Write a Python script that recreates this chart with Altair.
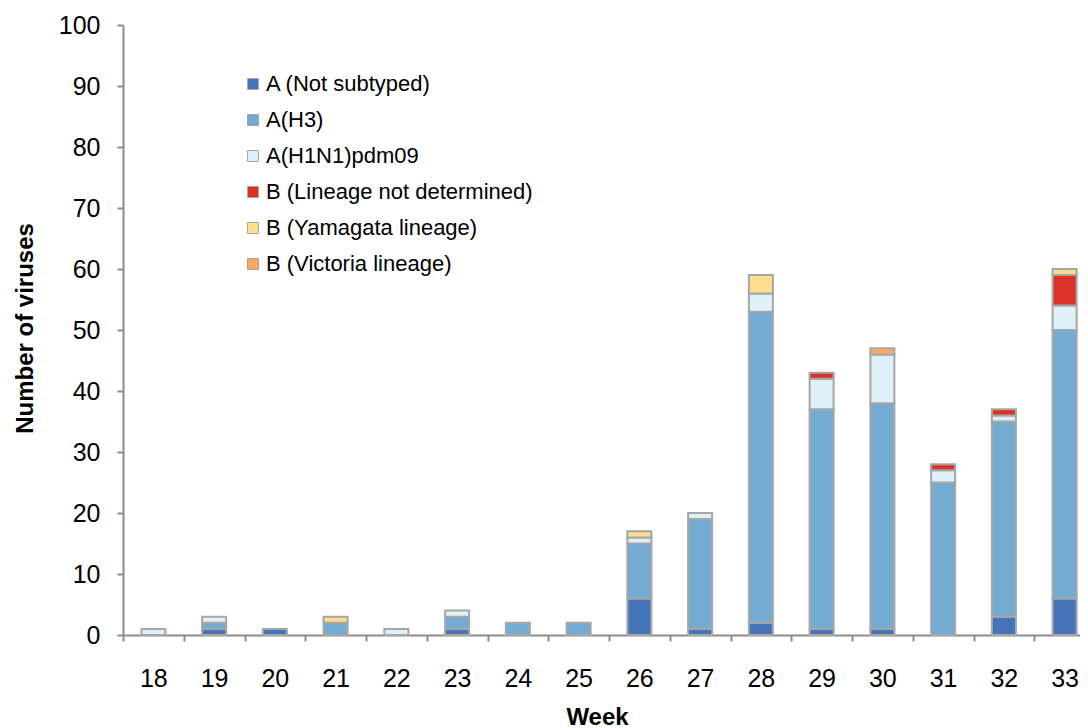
import altair as alt
import pandas as pd

weeks = [18, 19, 20, 21, 22, 23, 24, 25, 26, 27, 28, 29, 30, 31, 32, 33]
series_names = [
    "A (Not subtyped)",
    "A(H3)",
    "A(H1N1)pdm09",
    "B (Lineage not determined)",
    "B (Yamagata lineage)",
    "B (Victoria lineage)",
]
not_subtyped = [0, 1, 1, 0, 0, 1, 0, 0, 6, 1, 2, 1, 1, 0, 3, 6]
h3 = [0, 1, 0, 2, 0, 2, 2, 2, 9, 18, 51, 36, 37, 25, 32, 44]
h1n1 = [1, 1, 0, 0, 1, 1, 0, 0, 1, 1, 3, 5, 8, 2, 1, 4]
b_nd = [0, 0, 0, 0, 0, 0, 0, 0, 0, 0, 0, 1, 0, 1, 1, 5]
b_yam = [0, 0, 0, 1, 0, 0, 0, 0, 1, 0, 3, 0, 0, 0, 0, 1]
b_vic = [0, 0, 0, 0, 0, 0, 0, 0, 0, 0, 0, 0, 1, 0, 0, 0]
colors = ["#4574B8", "#74ABD3", "#DEF1F8", "#D93327", "#FFDD8C", "#FBA95E"]
y_ticks = [0, 10, 20, 30, 40, 50, 60, 70, 80, 90, 100]

series_values = [not_subtyped, h3, h1n1, b_nd, b_yam, b_vic]
rows = []
for si, (name, vals) in enumerate(zip(series_names, series_values)):
    for w, v in zip(weeks, vals):
        if v > 0:
            rows.append({"Week": str(w), "Type": name, "Count": v, "ord": si})
df = pd.DataFrame(rows)

FONT = "Liberation Sans"
AX = "#8C8C8C"

chart = alt.Chart(df).mark_bar(size=24, stroke="#A6A6A6", strokeWidth=2).encode(
    x=alt.X(
        "Week:N",
        sort=[str(w) for w in weeks],
        scale=alt.Scale(domain=[str(w) for w in weeks], range=[0, 972], paddingInner=0, paddingOuter=0),
        axis=alt.Axis(
            title="Week",
            labelAngle=0,
            tickBand="extent",
            tickSize=6,
            tickColor=AX,
            tickWidth=2,
            domainColor=AX,
            domainWidth=2,
            labelFont=FONT,
            labelFontSize=25,
            labelColor="#000000",
            labelBaseline="alphabetic",
            labelPadding=45,
            titleFont=FONT,
            titleFontSize=24,
            titleFontWeight="bold",
            titleColor="#000000",
            titleX=474,
            titleY=89,
            titleBaseline="alphabetic",
            titleAlign="center",
            grid=False,
        ),
    ),
    y=alt.Y(
        "Count:Q",
        stack="zero",
        scale=alt.Scale(domain=[0, 100], nice=False),
        axis=alt.Axis(
            title="Number of viruses",
            values=y_ticks,
            tickSize=6,
            tickColor=AX,
            tickWidth=2,
            domainColor=AX,
            domainWidth=2,
            labelFont=FONT,
            labelFontSize=25,
            labelColor="#000000",
            labelPadding=17,
            titleFont=FONT,
            titleFontSize=24,
            titleFontWeight="bold",
            titleColor="#000000",
            titleX=-91,
            titleY=303,
            titleAngle=270,
            titleBaseline="alphabetic",
            titleAlign="center",
            grid=False,
        ),
    ),
    color=alt.Color(
        "Type:N",
        scale=alt.Scale(domain=series_names, range=colors),
        legend=alt.Legend(
            title=None,
            orient="none",
            legendX=119,
            legendY=48,
            symbolType="square",
            symbolSize=121,
            symbolStrokeColor="#A6A6A6",
            symbolStrokeWidth=1,
            labelFont=FONT,
            labelFontSize=22,
            labelColor="#000000",
            labelOffset=2,
            labelLimit=500,
            rowPadding=14,
            padding=0,
        ),
    ),
    order=alt.Order("ord:Q", sort="ascending"),
).properties(
    width=950,
    height=610,
    autosize=alt.AutoSizeParams(type="none"),
    padding={"left": 115, "top": 17, "right": 7, "bottom": 93},
).configure_view(stroke=None)

chart.save("out.html", embed_options={"renderer": "svg", "actions": False})
